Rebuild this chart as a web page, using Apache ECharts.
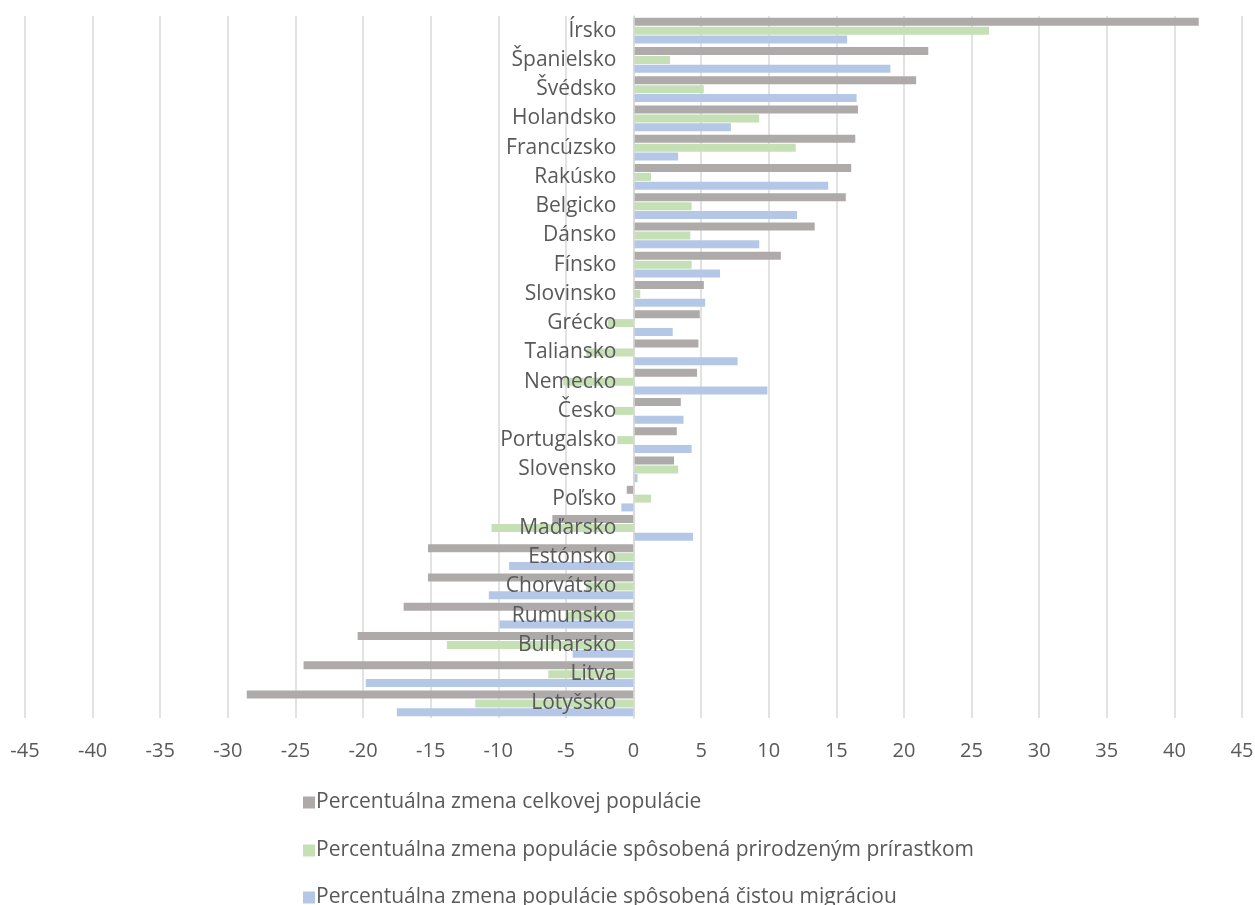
<!DOCTYPE html>
<html>
<head>
<meta charset="utf-8">
<script src="https://cdn.jsdelivr.net/npm/echarts@6/dist/echarts.min.js"></script>
<style>
html,body{margin:0;padding:0;background:#fff;}
#c{width:1255px;height:905px;}
</style>
</head>
<body>
<div id="c"></div>
<script>
const categories = ['Írsko','Španielsko','Švédsko','Holandsko','Francúzsko','Rakúsko','Belgicko','Dánsko','Fínsko','Slovinsko','Grécko','Taliansko','Nemecko','Česko','Portugalsko','Slovensko','Poľsko','Maďarsko','Estónsko','Chorvátsko','Rumunsko','Bulharsko','Litva','Lotyšsko'];
const totalChange = [41.8,21.8,20.9,16.6,16.4,16.1,15.7,13.4,10.9,5.2,4.9,4.8,4.7,3.5,3.2,3.0,-0.5,-6.0,-15.2,-15.2,-17.0,-20.4,-24.4,-28.6];
const naturalChange = [26.3,2.7,5.2,9.3,12.0,1.3,4.3,4.2,4.3,0.5,-1.9,-3.5,-5.2,-1.4,-1.2,3.3,1.3,-10.5,-1.8,-3.5,-5.0,-13.8,-6.3,-11.7];
const migrationChange = [15.8,19.0,16.5,7.2,3.3,14.4,12.1,9.3,6.4,5.3,2.9,7.7,9.9,3.7,4.3,0.3,-0.9,4.4,-9.2,-10.7,-9.9,-4.5,-19.8,-17.5];
const seriesNames = ['Percentuálna zmena celkovej populácie','Percentuálna zmena populácie spôsobená prirodzeným prírastkom','Percentuálna zmena populácie spôsobená čistou migráciou'];
const xMin = -45, xMax = 45, xStep = 5;

const FONT = '"Open Sans", Lato, sans-serif';
const W = 1255, GL = 25, GR = 13;
const plotW = W - GL - GR;
const zeroOffset = -plotW * (0 - xMin) / (xMax - xMin);

const legendTops = [787, 835, 882];
const legends = seriesNames.map((n, i) => ({
  orient: 'horizontal', left: 298, top: legendTops[i],
  itemWidth: 12, itemHeight: 12,
  icon: 'rect',
  textStyle: {fontSize: 21, color: '#595959', fontFamily: FONT, padding: [0,0,0,-4]},
  data: [n]
}));

const chart = echarts.init(document.getElementById('c'));
chart.setOption({
  animation: false,
  textStyle: {fontFamily: FONT},
  grid: {left: GL, right: GR, top: 16, bottom: 187, containLabel: false, outerBoundsMode: 'none'},
  legend: legends,
  xAxis: {
    type: 'value', min: xMin, max: xMax, interval: xStep,
    axisLine: {show: false}, axisTick: {show: false},
    splitLine: {lineStyle: {color: '#d9d9d9', width: 1.5}},
    axisLabel: {fontSize: 20, color: '#595959', margin: 23, fontFamily: FONT}
  },
  yAxis: {
    type: 'category', data: categories, inverse: true, z: 10,
    offset: zeroOffset,
    axisLine: {onZero: false, lineStyle: {color: '#d9d9d9', width: 1.5}},
    axisTick: {show: false},
    axisLabel: {fontSize: 21, color: '#595959', margin: 17, fontFamily: FONT}
  },
  series: [
    {name: seriesNames[0], type: 'bar', data: totalChange, barWidth: 8, barGap: '10%', itemStyle: {color: '#aeaaaa'}},
    {name: seriesNames[1], type: 'bar', data: naturalChange, barWidth: 8, barGap: '10%', itemStyle: {color: '#c5e0b4'}},
    {name: seriesNames[2], type: 'bar', data: migrationChange, barWidth: 8, barGap: '10%', itemStyle: {color: '#b4c7e7'}}
  ]
});
</script>
</body>
</html>
